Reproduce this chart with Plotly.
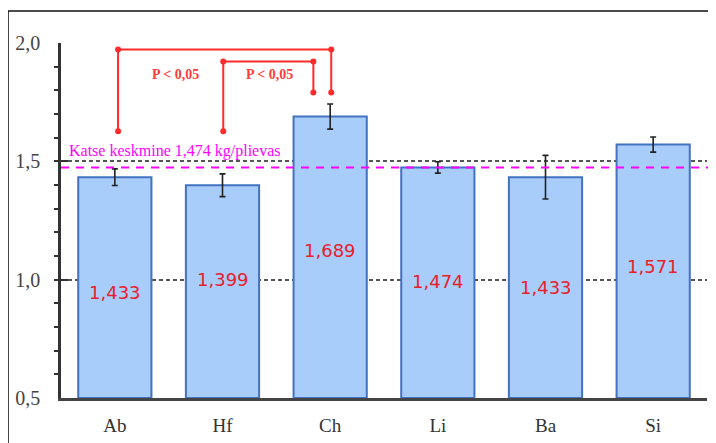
import plotly.graph_objects as go

categories = ["Ab", "Hf", "Ch", "Li", "Ba", "Si"]
values = [1.433, 1.399, 1.689, 1.474, 1.433, 1.571]
errors = [0.035, 0.048, 0.053, 0.024, 0.092, 0.032]
label_y = [0.947, 1.0, 1.124, 0.994, 0.968, 1.057]
mean_value = 1.474
mean_text = "Katse keskmine 1,474 kg/plievas"

# significance brackets: x positions (category index units) and y levels
bracket1_x = [0.03, 0.03, 2.01, 2.01]
bracket1_y = [1.627, 1.973, 1.973, 1.791]
bracket2_x = [1.007, 1.007, 1.844, 1.844]
bracket2_y = [1.627, 1.922, 1.922, 1.791]
p_text = "P < 0,05"
p_x = [0.56, 1.435]
p_y = [1.867, 1.867]

xi = list(range(len(categories)))

fig = go.Figure()
fig.add_trace(go.Bar(
    x=xi, y=[v - 0.5 for v in values], base=0.5,
    marker=dict(color="#a9cdfb", line=dict(color="#4272c0", width=2)),
    error_y=dict(type="data", array=errors, color="#222", thickness=1.6, width=3),
    width=0.68, showlegend=False, hoverinfo="skip",
))

for bx, by in [(bracket1_x, bracket1_y), (bracket2_x, bracket2_y)]:
    fig.add_trace(go.Scatter(
        x=bx, y=by, mode="lines+markers",
        line=dict(color="#ff2a2a", width=2),
        marker=dict(color="#ff2a2a", size=6),
        showlegend=False, hoverinfo="skip", cliponaxis=False,
    ))

annotations = []
for i, v in enumerate(values):
    annotations.append(dict(
        x=i, y=label_y[i], xref="x", yref="y",
        text=f"{v:.3f}".replace(".", ","), showarrow=False,
        font=dict(family="DejaVu Sans", size=18, color="#e8202a"),
    ))
for px_, py_ in zip(p_x, p_y):
    annotations.append(dict(
        x=px_, y=py_, xref="x", yref="y", text="<b>" + p_text + "</b>",
        showarrow=False,
        font=dict(family="Liberation Serif", size=14, color="#ff3a3a"),
    ))
annotations.append(dict(
    x=-0.44, y=1.5, xref="x", yref="y", text=mean_text,
    showarrow=False, xanchor="left", yanchor="bottom", yshift=-1,
    font=dict(family="Liberation Serif", size=16, color="#ff00ff"),
))

shapes = [
    dict(type="line", xref="paper", yref="y", x0=0, x1=1.004,
         y0=mean_value, y1=mean_value,
         line=dict(color="#ff00ff", width=2, dash="8px,7px"), layer="above"),
    dict(type="rect", xref="paper", yref="paper", x0=-0.082, x1=1.1,
         y0=-0.3, y1=1.09, line=dict(color="#111", width=1.5)),
]

fig.update_layout(
    width=708, height=435,
    margin=dict(l=53, r=9, t=35, b=45),
    paper_bgcolor="white", plot_bgcolor="white",
    bargap=0.32,
    annotations=annotations, shapes=shapes,
    xaxis=dict(
        range=[-0.5, 5.5], tickvals=xi, ticktext=categories,
        showgrid=False, zeroline=False, automargin=False,
        showline=True, linecolor="#444", linewidth=2.5,
        ticks="", ticklabelstandoff=8,
        tickfont=dict(family="Liberation Serif", size=19, color="#333"),
    ),
    yaxis=dict(
        range=[0.5, 2.0], tickvals=[0.5, 1.0, 1.5, 2.0],
        ticktext=["0,5", "1,0", "1,5", "2,0"], automargin=False,
        showgrid=True, gridcolor="#555", gridwidth=1.8, griddash="4px,3px",
        zeroline=False, showline=True, linecolor="#333", linewidth=2.5,
        ticks="inside", ticklen=7, tickwidth=2, tickcolor="#333",
        minor=dict(dtick=0.1, ticks="outside", ticklen=4, tickwidth=2,
                   tickcolor="#333", showgrid=False),
        ticklabelstandoff=14,
        tickfont=dict(family="Liberation Serif", size=20, color="#444"),
    ),
)

fig.write_html("out.html")
